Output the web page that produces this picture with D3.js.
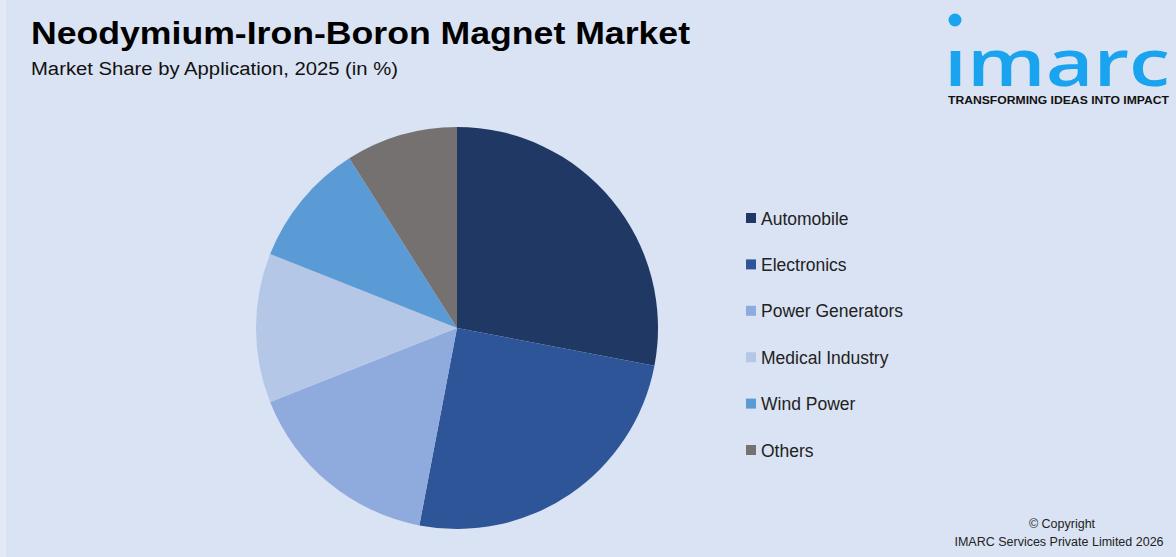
<!DOCTYPE html>
<html>
<head>
<meta charset="utf-8">
<script src="https://cdn.jsdelivr.net/npm/d3@7"></script>
<style>
  html, body { margin: 0; padding: 0; }
  body { width: 1176px; height: 557px; overflow: hidden; background: #dae3f3; }
</style>
</head>
<body>
<svg id="chart" width="1176" height="557"></svg>
<script>
var categories = ['Automobile', 'Electronics', 'Power Generators', 'Medical Industry', 'Wind Power', 'Others'];
var shares = [28, 25, 16, 12, 10, 9];
var colors = ['#1f3864', '#2e5597', '#8faadc', '#b4c7e7', '#5b9bd5', '#767171'];

var svg = d3.select('#chart');
var font = "'Liberation Sans', Arial, sans-serif";

// background + thin lighter strip on the left
svg.append('rect').attr('width', 1176).attr('height', 557).attr('fill', '#dae3f3');
svg.append('rect').attr('width', 6).attr('height', 557).attr('fill', '#e4eaf5');

// titles
svg.append('text')
  .attr('x', 31).attr('y', 44)
  .style('font', "bold 31px 'Liberation Sans', Arial, sans-serif")
  .attr('fill', '#000')
  .attr('textLength', 659)
  .attr('lengthAdjust', 'spacingAndGlyphs')
  .text('Neodymium-Iron-Boron Magnet Market');

svg.append('text')
  .attr('x', 31).attr('y', 75)
  .style('font', "18px 'Liberation Sans', sans-serif")
  .attr('fill', '#111')
  .attr('textLength', 367)
  .attr('lengthAdjust', 'spacingAndGlyphs')
  .text('Market Share by Application, 2025 (in %)');

// pie
var cx = 457, cy = 328, r = 201;
var pie = d3.pie().sort(null).value(function(d){ return d.v; });
var arc = d3.arc().innerRadius(0).outerRadius(r);
var data = categories.map(function(c, i){ return {name: c, v: shares[i], color: colors[i]}; });

var g = svg.append('g').attr('transform', 'translate(' + cx + ',' + cy + ')');
g.selectAll('path')
  .data(pie(data))
  .enter().append('path')
  .attr('d', arc)
  .attr('fill', function(d){ return d.data.color; });

// legend
var legend = svg.append('g').attr('transform', 'translate(746,219)');
var item = legend.selectAll('g')
  .data(data)
  .enter().append('g')
  .attr('transform', function(d, i){ return 'translate(0,' + (i * 46.4) + ')'; });
item.append('rect')
  .attr('x', 0).attr('y', -6)
  .attr('width', 10).attr('height', 10)
  .attr('fill', function(d){ return d.color; });
item.append('text')
  .attr('x', 15).attr('y', 5.5)
  .style('font', "17.5px " + font)
  .attr('fill', '#222')
  .text(function(d){ return d.name; });

// logo
var logo = svg.append('g');
logo.append('circle').attr('cx', 955).attr('cy', 20).attr('r', 6.5).attr('fill', '#1aa3ee');
logo.append('text')
  .attr('x', 944).attr('y', 86)
  .style('font', "600 66px 'Open Sans', 'DejaVu Sans', sans-serif")
  .attr('fill', '#1aa3ee')
  .attr('textLength', 226)
  .attr('lengthAdjust', 'spacingAndGlyphs')
  .text('ımarc');
logo.append('text')
  .attr('x', 948).attr('y', 104)
  .style('font', "bold 11.5px 'Liberation Sans', Arial, sans-serif")
  .attr('fill', '#111')
  .attr('textLength', 221)
  .attr('lengthAdjust', 'spacingAndGlyphs')
  .text('TRANSFORMING IDEAS INTO IMPACT');

// copyright
svg.append('text')
  .attr('x', 1062).attr('y', 528)
  .attr('text-anchor', 'middle')
  .style('font', "12.5px " + font)
  .attr('fill', '#222')
  .text('\u00A9 Copyright');
svg.append('text')
  .attr('x', 1059).attr('y', 546)
  .attr('text-anchor', 'middle')
  .style('font', "12.5px " + font)
  .attr('fill', '#222')
  .text('IMARC Services Private Limited 2026');
</script>
</body>
</html>
